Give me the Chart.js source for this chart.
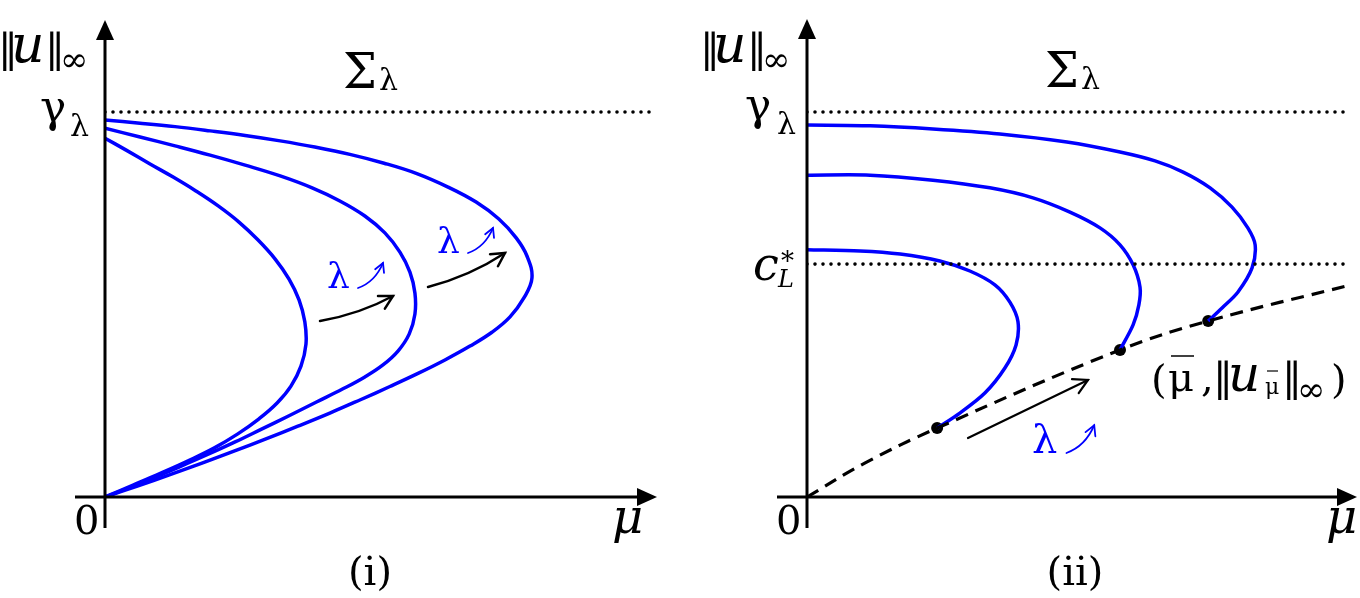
<!DOCTYPE html>
<html>
<head>
<meta charset="utf-8">
<script src="https://cdn.jsdelivr.net/npm/chart.js@4.4.1/dist/chart.umd.min.js"></script>
<style>
  html, body { margin: 0; padding: 0; background: #fff; overflow: hidden; }
  .panel { position: absolute; top: 0; width: 680px; height: 598px; }
</style>
</head>
<body>
<div class="panel" style="left:0"><canvas id="left" width="680" height="598"></canvas></div>
<div class="panel" style="left:680px"><canvas id="right" width="680" height="598"></canvas></div>
<script>
// units: gamma_lambda = 1 on the vertical axis, same scale on mu
const gammaLevel = 1.0;
const cLLevel = 0.605;

// panel (i): three branches of Sigma_lambda, lambda grows outward
const innerBranch = [[0,0.932],[0.055,0.901],[0.117,0.865],[0.177,0.831],[0.236,0.795],[0.294,0.756],
  [0.348,0.714],[0.397,0.668],[0.442,0.618],[0.478,0.566],[0.504,0.512],[0.519,0.455],[0.522,0.397],
  [0.509,0.340],[0.483,0.288],[0.447,0.244],[0.400,0.203],[0.345,0.164],[0.283,0.127],[0.216,0.094],
  [0.145,0.062],[0.073,0.031],[0,0]];
const middleBranch = [[0,0.958],[0.091,0.935],[0.182,0.912],[0.273,0.888],[0.364,0.862],[0.455,0.834],
  [0.538,0.803],[0.610,0.769],[0.675,0.730],[0.727,0.686],[0.766,0.636],[0.792,0.584],[0.805,0.530],
  [0.805,0.475],[0.790,0.423],[0.761,0.379],[0.722,0.343],[0.675,0.312],[0.618,0.281],[0.548,0.246],
  [0.478,0.211],[0.408,0.177],[0.338,0.143],[0.268,0.111],[0.195,0.079],[0.122,0.048],[0.060,0.023],[0,0]];
const outerBranch = [[0,0.979],[0.091,0.971],[0.182,0.962],[0.273,0.951],[0.364,0.939],[0.455,0.925],
  [0.545,0.909],[0.636,0.890],[0.725,0.867],[0.810,0.840],[0.891,0.805],[0.964,0.766],[1.023,0.722],
  [1.068,0.673],[1.096,0.626],[1.109,0.569],[1.088,0.517],[1.052,0.468],[1.005,0.428],[0.948,0.392],
  [0.883,0.356],[0.813,0.321],[0.740,0.287],[0.662,0.252],[0.584,0.218],[0.501,0.184],[0.418,0.151],
  [0.335,0.119],[0.252,0.088],[0.169,0.058],[0.086,0.029],[0,0]];

// panel (ii): branches ending on the dashed curve of (mu bar, ||u_mu bar||)
const lowBranch = [[0,0.642],[0.138,0.639],[0.242,0.631],[0.345,0.613],[0.423,0.587],[0.488,0.551],
  [0.527,0.506],[0.548,0.455],[0.543,0.395],[0.514,0.335],[0.462,0.270],[0.397,0.218],[0.338,0.179]];
const midBranch = [[0,0.836],[0.164,0.836],[0.327,0.823],[0.475,0.803],[0.587,0.777],[0.683,0.740],
  [0.761,0.699],[0.813,0.655],[0.847,0.603],[0.865,0.545],[0.862,0.499],[0.847,0.447],[0.813,0.382]];
const highBranch = [[0,0.966],[0.164,0.964],[0.327,0.956],[0.501,0.943],[0.675,0.922],[0.813,0.896],
  [0.904,0.873],[0.977,0.844],[1.047,0.803],[1.104,0.753],[1.145,0.699],[1.164,0.655],[1.156,0.595],
  [1.119,0.532],[1.078,0.491],[1.042,0.457]];
const endCurve = [[0,0],[0.15,0.088],[0.338,0.179],[0.813,0.382],[1.042,0.457],[1.413,0.551]];
const endPoints = [[0.338,0.179],[0.813,0.382],[1.042,0.457]];

const BLUE = '#0000ff';
const SERIF = '"DejaVu Serif", serif';

function pts(a) { return a.map(p => ({x: p[0], y: p[1]})); }

function branch(a, tension) {
  return { data: pts(a), showLine: true, borderColor: BLUE, borderWidth: 3.5,
           pointRadius: 0, tension: tension, fill: false };
}

function dotted(level, xmax) {
  return { data: pts([[0, level], [xmax, level]]), showLine: true, borderColor: '#000',
           borderWidth: 3.6, borderDash: [0, 8], borderCapStyle: 'round', pointRadius: 0, tension: 0 };
}

function text(ctx, s, x, y, size, opts = {}) {
  ctx.save();
  ctx.font = (opts.italic ? 'italic ' : '') + size + 'px ' + SERIF;
  ctx.fillStyle = opts.color || '#000';
  ctx.textAlign = opts.align || 'left';
  ctx.textBaseline = 'alphabetic';
  ctx.fillText(s, x, y);
  ctx.restore();
}

function line(ctx, x1, y1, x2, y2, w, color) {
  ctx.save();
  ctx.strokeStyle = color || '#000';
  ctx.lineWidth = w;
  ctx.beginPath(); ctx.moveTo(x1, y1); ctx.lineTo(x2, y2); ctx.stroke();
  ctx.restore();
}

// open arrow along quadratic curve
function curvedArrow(ctx, x0, y0, cx, cy, x1, y1, w, color, head) {
  ctx.save();
  ctx.strokeStyle = color; ctx.lineWidth = w; ctx.lineCap = 'round';
  ctx.beginPath(); ctx.moveTo(x0, y0); ctx.quadraticCurveTo(cx, cy, x1, y1); ctx.stroke();
  const a = Math.atan2(y1 - cy, x1 - cx);
  ctx.beginPath();
  ctx.moveTo(x1 - head * Math.cos(a - 0.5), y1 - head * Math.sin(a - 0.5));
  ctx.lineTo(x1, y1);
  ctx.lineTo(x1 - head * Math.cos(a + 0.5), y1 - head * Math.sin(a + 0.5));
  ctx.stroke();
  ctx.restore();
}

function lambdaUp(ctx, x, y, size) {
  // blue "lambda" followed by a small curved up-right arrow
  text(ctx, 'λ', x, y, size, {color: BLUE});
  const s = size / 36;
  curvedArrow(ctx, x + 31 * s, y, x + 48 * s, y - 6 * s, x + 56 * s, y - 25 * s, 1.8, BLUE, 10 * s);
}

function axesPlugin(opts) {
  return {
    id: 'axes' + opts.name,
    afterDatasetsDraw(chart) {
      const ctx = chart.ctx;
      const xs = chart.scales.x, ys = chart.scales.y;
      const ox = xs.getPixelForValue(0), oy = ys.getPixelForValue(0);
      ctx.save();
      ctx.fillStyle = '#000';
      // vertical axis with arrow
      line(ctx, ox, oy + 31, ox, opts.yTip + 18, 3);
      ctx.beginPath(); ctx.moveTo(ox, opts.yTip); ctx.lineTo(ox - 9, opts.yTip + 20); ctx.lineTo(ox + 9, opts.yTip + 20); ctx.closePath(); ctx.fill();
      // horizontal axis with arrow
      line(ctx, ox - 30, oy, opts.xTip - 18, oy, 3);
      ctx.beginPath(); ctx.moveTo(opts.xTip, oy); ctx.lineTo(opts.xTip - 20, oy - 9); ctx.lineTo(opts.xTip - 20, oy + 9); ctx.closePath(); ctx.fill();
      ctx.restore();
      opts.labels(ctx, ox, oy);
    }
  };
}

function normLabel(ctx, x, y) {
  text(ctx, '‖', x, y, 40);
  text(ctx, 'u', x + 13, y, 52, {italic: true});
  text(ctx, '‖', x + 47, y, 40);
  text(ctx, '∞', x + 62, y + 9, 34);
}

function makeChart(id, datasets, pad, xmax, ymax, plugin) {
  return new Chart(document.getElementById(id), {
    type: 'scatter',
    data: { datasets: datasets },
    options: {
      responsive: false, animation: false, devicePixelRatio: 1,
      layout: { padding: pad },
      plugins: { legend: { display: false }, tooltip: { enabled: false } },
      scales: {
        x: { type: 'linear', min: 0, max: xmax, display: false },
        y: { type: 'linear', min: 0, max: ymax, display: false }
      }
    },
    plugins: [plugin]
  });
}

makeChart('left',
  [dotted(gammaLevel, 1.416), branch(innerBranch, 0.4), branch(middleBranch, 0.4), branch(outerBranch, 0.4)],
  {left: 105, right: 28.3, top: 35, bottom: 101}, 1.42, 1.2,
  axesPlugin({ name: 'L', yTip: 20, xTip: 657, labels(ctx, ox, oy) {
    normLabel(ctx, -2, 62);
    text(ctx, 'γ', 40, 122, 44);
    text(ctx, 'λ', 70, 136, 30);
    text(ctx, 'Σ', 343, 88, 48);
    text(ctx, 'λ', 379, 90, 30);
    text(ctx, '0', 74, 534, 40);
    text(ctx, 'μ', 612, 533, 48, {italic: true});
    text(ctx, '(i)', 370, 585, 40, {align: 'center'});
    lambdaUp(ctx, 327, 288, 36);
    lambdaUp(ctx, 437, 253, 36);
    curvedArrow(ctx, 320, 321, 360, 314, 393, 296, 2.5, '#000', 15);
    curvedArrow(ctx, 428, 287, 470, 276, 505, 253, 2.5, '#000', 15);
  }}));

const rightDashed = { data: pts(endCurve), showLine: true, borderColor: '#000', borderWidth: 3.2,
  borderDash: [13, 8], pointRadius: 0, tension: 0.4 };
const rightDots = { data: pts(endPoints), showLine: false, pointRadius: 6, pointBackgroundColor: '#000',
  pointBorderColor: '#000', borderWidth: 0 };

makeChart('right',
  [dotted(gammaLevel, 1.41), dotted(cLLevel, 1.41), rightDashed,
   branch(lowBranch, 0.3), branch(midBranch, 0.3), branch(highBranch, 0.3), rightDots],
  {left: 127, right: 6.3, top: 35, bottom: 101}, 1.42, 1.2,
  axesPlugin({ name: 'R', yTip: 19, xTip: 677, labels(ctx, ox, oy) {
    normLabel(ctx, 20, 62);
    text(ctx, 'γ', 65, 120, 44);
    text(ctx, 'λ', 97, 134, 30);
    text(ctx, 'Σ', 365, 87, 48);
    text(ctx, 'λ', 401, 89, 30);
    text(ctx, 'c', 73, 280, 46, {italic: true});
    text(ctx, '*', 101, 270, 26);
    text(ctx, 'L', 98, 287, 24, {italic: true});
    text(ctx, '0', 96, 534, 40);
    text(ctx, 'μ', 646, 533, 48, {italic: true});
    text(ctx, '(ii)', 395, 585, 40, {align: 'center'});
    // (mu bar, ||u_mu bar||_inf)
    text(ctx, '(', 471, 393, 40);
    text(ctx, 'μ', 488, 391, 40);
    line(ctx, 491, 356, 514, 356, 1.5);
    text(ctx, ',', 521, 391, 40);
    text(ctx, '‖', 533, 391, 40);
    text(ctx, 'u', 548, 391, 50, {italic: true});
    text(ctx, 'μ', 585, 394, 22);
    line(ctx, 587, 371, 598, 371, 1.2);
    text(ctx, '‖', 602, 391, 40);
    text(ctx, '∞', 617, 401, 34);
    text(ctx, ')', 651, 393, 40);
    lambdaUp(ctx, 352, 453, 40);
    curvedArrow(ctx, 288, 438, 348, 409, 408, 380, 2.2, '#000', 16);
  }}));
</script>
</body>
</html>
